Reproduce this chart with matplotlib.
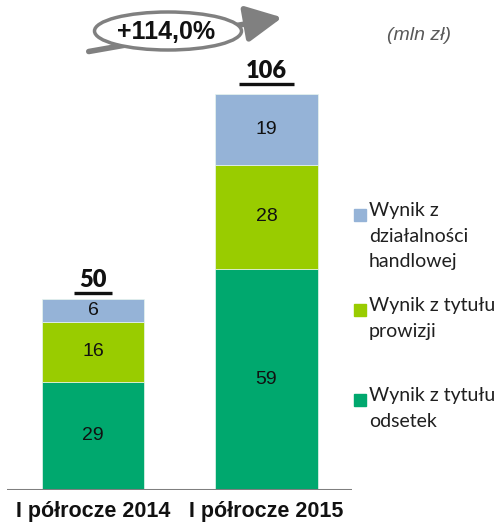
import matplotlib.pyplot as plt
from matplotlib.patches import Ellipse, FancyArrowPatch

# Wynik (mln zł) w rozbiciu na składniki
categories = ['I półrocze 2014', 'I półrocze 2015']
odsetki = [29, 59]
prowizje = [16, 28]
handel = [6, 19]
totals = [50, 106]
growth_label = '+114,0%'

legend_labels = ['Wynik z\ndziałalności\nhandlowej',
                 'Wynik z tytułu\nprowizji',
                 'Wynik z tytułu\nodsetek']
c_odsetki = '#00A86E'
c_prowizje = '#99CC00'
c_handel = '#95B3D7'

W, H = 498, 526
PPU = 3.74  # pixels per unit on the value axis
fig = plt.figure(figsize=(W / 100, H / 100), dpi=100)

# axes placed in pixel terms: baseline at y=490, from x=7 to x=352
ax = fig.add_axes([7 / W, (H - 490) / H, 345 / W, 490 / H])
x = [0, 1]
bw = 0.59

ax.bar(x, odsetki, width=bw, color=c_odsetki, edgecolor='#E8F5EE', linewidth=0.5)
ax.bar(x, prowizje, width=bw, bottom=odsetki, color=c_prowizje,
       edgecolor='#E8F5EE', linewidth=0.5)
b2 = [o + p for o, p in zip(odsetki, prowizje)]
ax.bar(x, handel, width=bw, bottom=b2, color=c_handel,
       edgecolor='#E8F5EE', linewidth=0.5)

for i in x:
    ax.text(i, odsetki[i] / 2, str(odsetki[i]), ha='center', va='center',
            fontsize=14, family='Liberation Sans', color='#111111')
    ax.text(i, odsetki[i] + prowizje[i] / 2, str(prowizje[i]), ha='center',
            va='center', fontsize=14, family='Liberation Sans', color='#111111')
    ax.text(i, b2[i] + handel[i] / 2, str(handel[i]), ha='center',
            va='center', fontsize=14, family='Liberation Sans', color='#111111')
    # total above the bar, underlined
    ax.text(i, totals[i] + 23 / PPU, str(totals[i]), ha='center',
            va='center', fontsize=17, fontweight='heavy', family='Lato',
            color='#111111')
    half = 0.048 * len(str(totals[i])) + 0.015
    ax.plot([i - half, i + half], [totals[i] + 10 / PPU] * 2,
            color='#111111', lw=2.4, solid_capstyle='butt')

ax.set_xlim(-0.496, 1.493)
ax.set_ylim(0, 490 / PPU)
ax.axis('off')
ax.axhline(0, color='#7F7F7F', lw=2.2)

for i, c in enumerate(categories):
    fig.text((93 + 173.5 * i) / W, 1 - 511 / H, c, ha='center',
             va='center', fontsize=15.5, fontweight='bold',
             family='Liberation Sans', color='#111111')

# legend
leg_y = [215, 310, 400]
leg_c = [c_handel, c_prowizje, c_odsetki]
for yy, col, lab in zip(leg_y, leg_c, legend_labels):
    fig.patches.append(plt.Rectangle((354 / W, 1 - (yy + 6) / H), 12 / W, 12 / H,
                                     transform=fig.transFigure, color=col))
    fig.text(369 / W, 1 - (yy - 13) / H, lab, ha='left', va='top',
             fontsize=14, family='Lato', color='#1F1F1F',
             linespacing=1.62)

# growth arrow with ellipse label
arrow = FancyArrowPatch((86 / W, 1 - 52 / H), (285 / W, 1 - 17 / H),
                        transform=fig.transFigure,
                        arrowstyle='-|>,head_length=2.2,head_width=1.1',
                        mutation_scale=10, color='#808080', lw=4)
fig.patches.append(arrow)
ell = Ellipse((168 / W, 1 - 31 / H), 147 / W, 38 / H, transform=fig.transFigure,
              facecolor='white', edgecolor='#808080', lw=2.5)
fig.patches.append(ell)
fig.text(166 / W, 1 - 32 / H, growth_label, ha='center', va='center',
         fontsize=18, fontweight='bold', family='Liberation Sans', color='#111111')

fig.text(419 / W, 1 - 35 / H, '(mln zł)', ha='center', va='center',
         fontsize=14, style='italic', family='Liberation Sans', color='#595959')

fig.savefig('out.png', dpi=100)
